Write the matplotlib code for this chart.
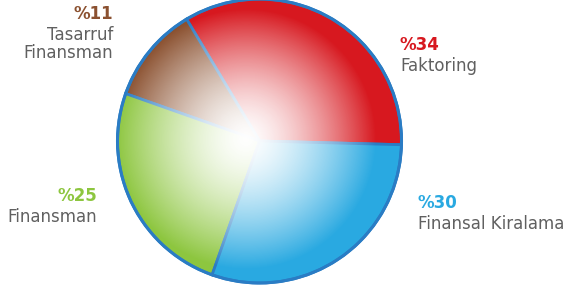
import matplotlib
matplotlib.use("Agg")
import matplotlib.pyplot as plt
import numpy as np
from matplotlib.patches import Circle

# data (order: counter-clockwise from ~3 o'clock)
names = ["Faktoring", "Tasarruf\nFinansman", "Finansman", "Finansal Kiralama"]
shares = [34, 11, 25, 30]
colors = ["#d7181f", "#8b5130", "#8dc63f", "#29a9e1"]
label_colors = ["#d7181f", "#8b5130", "#8dc63f", "#29a9e1"]

W, H = 565, 288
cx, cy, R = 259.5, 147.0, 142.0
edge = "#2a7cc4"

fig = plt.figure(figsize=(W / 100, H / 100), dpi=100)
ax = fig.add_axes([0, 0, 1, 1])

wedges, _ = ax.pie(shares, colors=colors, startangle=-1.5, counterclock=True,
                   center=(cx, cy), radius=R,
                   wedgeprops=dict(edgecolor=edge, linewidth=2.0))

# white radial highlight on top of the slices
gx, gy = cx - 14, cy + 2
yy, xx = np.mgrid[cy - R:cy + R:400j, cx - R:cx + R:400j]
d = np.hypot(xx - gx, yy - gy) / R
alpha = np.clip(1 - (d / 0.92) ** 1.5, 0, 1)
rgba = np.ones(xx.shape + (4,))
rgba[..., 3] = alpha
img = ax.imshow(rgba, extent=(cx - R, cx + R, cy - R, cy + R),
                origin="lower", zorder=3, interpolation="bilinear")
clip = Circle((cx, cy), R, transform=ax.transData)
img.set_clip_path(clip)

ax.add_patch(Circle((cx, cy), R, fill=False, edgecolor=edge, lw=2.2, zorder=4))

gray = "#606060"
fs = 12
# label placements in pixel coords (x, y of percent line, ha)
placements = [(400, 45, "left"), (113, 14, "right"), (97, 196, "right"), (418, 203, "left")]
for (x, y, ha), name, share, col in zip(placements, names, shares, label_colors):
    ax.text(x, H - y, f"%{share}", color=col, fontsize=fs, fontweight="bold",
            ha=ha, va="center")
    ax.text(x, H - y - 12, name, color=gray, fontsize=fs, ha=ha, va="top",
            linespacing=1.0)

ax.set_xlim(0, W)
ax.set_ylim(0, H)
ax.set_aspect("equal")
ax.axis("off")
fig.savefig("out.png", dpi=100)
